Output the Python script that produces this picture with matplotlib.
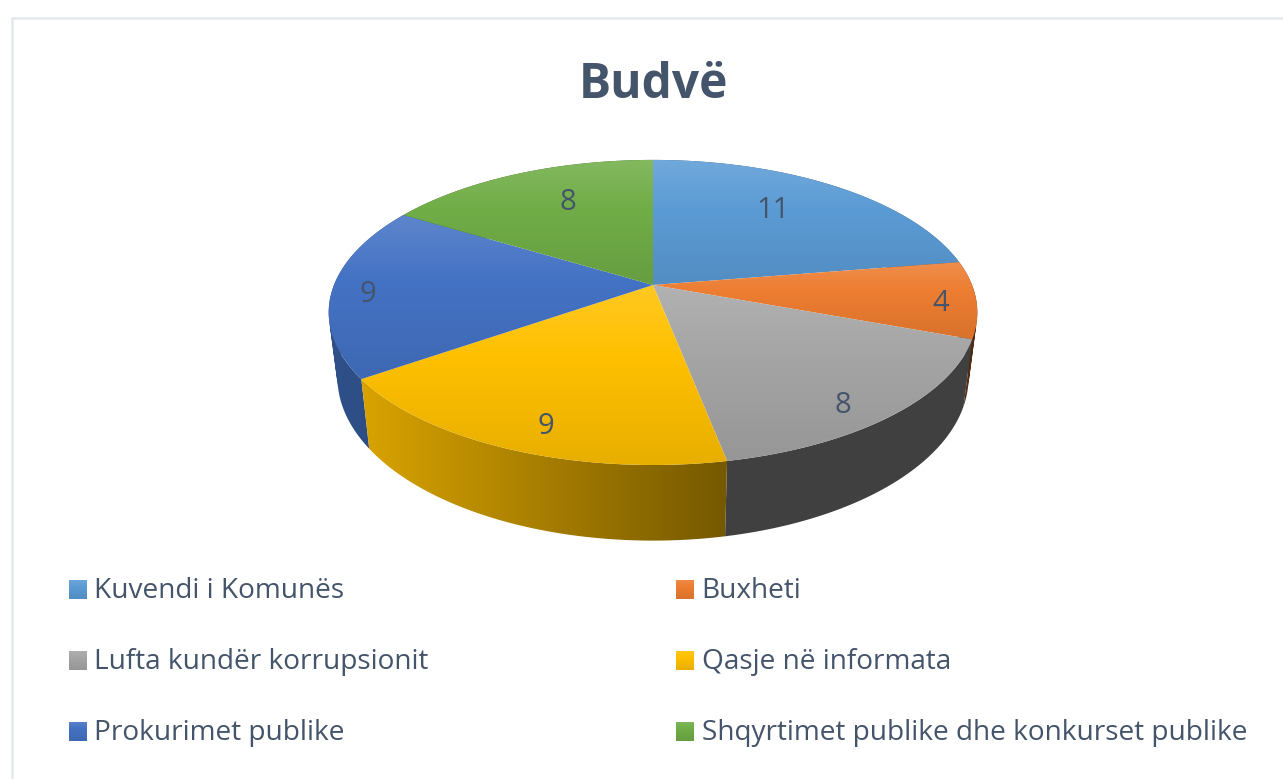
import numpy as np
import matplotlib
matplotlib.use("Agg")
import matplotlib.pyplot as plt
from matplotlib.colors import to_rgb
from matplotlib.patches import PathPatch
from matplotlib.path import Path

plt.rcParams['font.family'] = ['Open Sans', 'DejaVu Sans']

# Data
title = "Budvë"
categories = ["Kuvendi i Komunës", "Buxheti", "Lufta kundër korrupsionit",
              "Qasje në informata", "Prokurimet publike",
              "Shqyrtimet publike dhe konkurset publike"]
values = [11, 4, 8, 9, 9, 8]

# Style
colors = ["#5b9bd5", "#ed7d31", "#a5a5a5", "#ffc000", "#4472c4", "#70ad47"]
side_left = [0.6, 0.35, 0.39, 0.85, 0.70, 0.6]    # side wall shade, left end of slice
side_right = [0.6, 0.35, 0.39, 0.46, 0.66, 0.6]   # side wall shade, right end of slice
label_pos = [(773, 210), (941, 303), (843, 405), (546, 426), (368, 294), (568, 202)]
text_color = "#44546a"

W, H = 1283, 779
CX, CY = 653, 285
B, A, K = 319, 147.6, 0.18


# perspective view of the pie's unit disc, in pixels
def top_xy(a):
    u, v = np.sin(a), np.cos(a)
    w = 1 + K * v
    return CX + B * u / w, CY - A * v / w


def bottom_xy(a):
    x, y = top_xy(a)
    return CX + 0.973 * (x - CX), CY + 1.07 * (y - CY) + 63


def clipped_image(ax, path, img, zorder):
    xy = path.vertices
    extent = (xy[:, 0].min() - 1, xy[:, 0].max() + 1, xy[:, 1].max() + 1, xy[:, 1].min() - 1)
    im = ax.imshow(img, extent=extent, aspect="auto", zorder=zorder,
                   interpolation="bilinear", origin="upper")
    clip = PathPatch(path, transform=ax.transData, facecolor="none", edgecolor="none")
    ax.add_patch(clip)
    im.set_clip_path(clip)


def top_fill(ax, xy, color, zorder):
    # vertical gradient, lighter at the top
    c = np.array(to_rgb(color))
    t = np.linspace(0, 1, 128)[:, None]
    light = c + (1 - c) * 0.14 * np.clip(1 - t / 0.4, 0, 1)
    img = (light * (1 - 0.09 * np.clip((t - 0.4) / 0.6, 0, 1)))[:, None, :]
    clipped_image(ax, Path(np.vstack([xy, xy[0]]), closed=True), img, zorder)


def wall_path(a):
    # one quad per arc step, all wound the same way so the fold at the silhouette stays filled
    x0, y0 = top_xy(a)
    x1, y1 = bottom_xy(a)
    verts, codes = [], []
    for j in range(len(a) - 1):
        q = np.array([(x0[j], y0[j]), (x0[j + 1], y0[j + 1]), (x1[j + 1], y1[j + 1]), (x1[j], y1[j])])
        x, y = q[:, 0], q[:, 1]
        if np.dot(x, np.roll(y, -1)) - np.dot(y, np.roll(x, -1)) < 0:
            q = q[::-1]
        verts += list(q) + [q[0]]
        codes += [Path.MOVETO, Path.LINETO, Path.LINETO, Path.LINETO, Path.CLOSEPOLY]
    return Path(np.array(verts), codes)


def side_fill(ax, a, color, left, right, zorder):
    # horizontal gradient, darker towards the right
    c = np.array(to_rgb(color))
    f = np.linspace(left, right, 128)[:, None]
    clipped_image(ax, wall_path(a), (c * f)[None, :, :], zorder)


fig = plt.figure(figsize=(W / 100, H / 100), dpi=100, facecolor="white")
ax = fig.add_axes([0, 0, 1, 1])
ax.axis("off")

# Chart border, runs off the right and bottom of the crop
ax.plot([11.5, 11.5, W + 5], [H + 5, 17.5, 17.5], color="#e4e8ee", lw=1.8, solid_joinstyle="miter")

edges = np.cumsum([0] + values) / sum(values) * 2 * np.pi

# Side walls, back slices first
mids = (edges[:-1] + edges[1:]) / 2
for i in np.argsort(-np.cos(mids)):
    a = np.linspace(edges[i], edges[i + 1], 120)
    side_fill(ax, a, colors[i], side_left[i], side_right[i], 2)

# Top faces
for i, color in enumerate(colors):
    a = np.linspace(edges[i], edges[i + 1], 120)
    x, y = top_xy(a)
    pts = np.column_stack([np.r_[CX, x], np.r_[CY, y]])
    top_fill(ax, pts, color, 3)

# Value labels
for val, (lx, ly) in zip(values, label_pos):
    ax.text(lx, ly, str(val), color=text_color, fontsize=21, ha="center", va="center", zorder=5)

ax.text(653, 85, title, color=text_color, fontsize=34.5, fontweight="bold",
        ha="center", va="center", zorder=5)

# Legend
legend_x = [69, 676]
legend_y = [589, 660, 731]
for i, (name, color) in enumerate(zip(categories, colors)):
    sx = legend_x[i % 2]
    sy = legend_y[i // 2]
    square = np.array([(sx, sy - 9.5), (sx + 18, sy - 9.5), (sx + 18, sy + 9.5), (sx, sy + 9.5)])
    top_fill(ax, square, color, 3)
    ax.text(sx + 25.5, sy + 2, name, color=text_color, fontsize=20.2, ha="left", va="center", zorder=5)

ax.set_xlim(0, W)
ax.set_ylim(H, 0)

fig.savefig("out.png", dpi=100)
